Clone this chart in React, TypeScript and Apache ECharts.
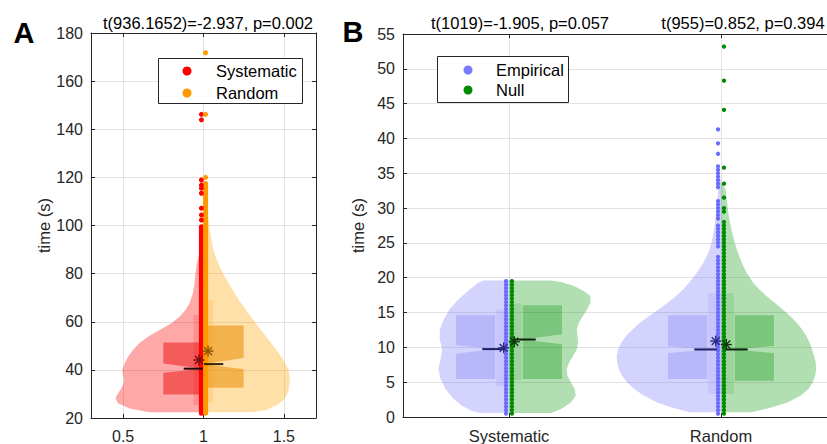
import React, { useEffect, useRef } from "react";
import * as echarts from "echarts";

const FONT = "'Liberation Sans', Arial, Helvetica, sans-serif";
const AXIS_COLOR = "#262626";
const GRID_COLOR = "#e2e2e2";

// ---------------- Panel A data ----------------
const aXTicks = [0.5, 1, 1.5];
const aTitle = "t(936.1652)=-2.937, p=0.002";
const aNames = ["Systematic", "Random"];

const aSysViolinY = [22.4, 22.6, 24.0, 26.1, 28.2, 29.6, 31.6, 33.7, 35.8, 37.9, 40.0, 42.7, 45.5, 48.3, 51.0, 53.8, 56.6, 59.4, 62.1, 64.9, 67.7, 71.8, 76.0, 80.1, 84.3, 87.1, 89.8, 91.2];
const aSysViolinW = [0.325, 0.356, 0.46, 0.532, 0.547, 0.538, 0.518, 0.501, 0.495, 0.501, 0.505, 0.491, 0.47, 0.439, 0.402, 0.346, 0.273, 0.2, 0.149, 0.112, 0.087, 0.066, 0.056, 0.05, 0.041, 0.029, 0.014, 0];
const aRndViolinY = [22.4, 23.3, 25.4, 28.2, 31.6, 35.8, 40.0, 44.1, 48.3, 52.4, 56.6, 60.7, 64.9, 69.1, 73.2, 77.4, 81.5, 85.7, 89.8, 95.4, 100.9, 106.4, 112.0, 116.1];
const aRndViolinW = [0.306, 0.39, 0.46, 0.51, 0.53, 0.538, 0.53, 0.497, 0.455, 0.406, 0.358, 0.31, 0.265, 0.219, 0.182, 0.145, 0.11, 0.083, 0.062, 0.046, 0.033, 0.025, 0.017, 0];
// [q1, notch low, median, notch high, q3]
const aSysBox = [29.8, 38.8, 40.5, 42.6, 51.4];
const aRndBox = [32.6, 40.3, 42.4, 44.9, 58.4];
const aSysMean = 44.1;
const aRndMean = 47.8;
// mean - sd, mean + sd
const aSysSd = [25.4, 62.8];
const aRndSd = [26.5, 69.0];
// dense runs of overlapping dots [from, to] and isolated dots
const aSysRuns = [[22, 99.5]];
const aSysDots = [102.3, 104.4, 107.2, 113.4, 115.5, 116.8, 118.9, 143.9, 146.2];
const aRndRuns = [[22, 117.5]];
const aRndDots = [120.0, 146.2, 171.8];

// ---------------- Panel B data ----------------
const bCategories = ["Systematic", "Random"];
const bTitles = ["t(1019)=-1.905, p=0.057", "t(955)=0.852, p=0.394"];
const bNames = ["Empirical", "Null"];

const bSysEmpViolinY = [0.57, 0.91, 1.62, 2.58, 4.01, 5.44, 6.88, 8.31, 9.74, 11.17, 12.6, 14.04, 15.47, 16.9, 18.34, 19.29, 19.6];
const bSysEmpViolinW = [0.138, 0.177, 0.223, 0.261, 0.3, 0.323, 0.333, 0.323, 0.315, 0.327, 0.326, 0.307, 0.28, 0.238, 0.184, 0.146, 0.12];
const bSysNullViolinY = [0.57, 1.15, 2.1, 3.06, 4.01, 4.97, 5.92, 6.88, 7.83, 8.79, 9.74, 10.7, 11.65, 12.6, 13.56, 14.52, 15.47, 16.43, 17.38, 18.1, 18.82, 19.39, 19.6];
const bSysNullViolinW = [0.2, 0.246, 0.292, 0.315, 0.31, 0.292, 0.276, 0.272, 0.284, 0.303, 0.32, 0.326, 0.323, 0.32, 0.33, 0.349, 0.369, 0.384, 0.384, 0.353, 0.307, 0.246, 0.2];
const bRndEmpViolinY = [0.67, 1.38, 2.1, 3.06, 4.01, 4.97, 5.92, 6.88, 7.83, 8.79, 9.74, 10.7, 11.65, 12.6, 13.56, 14.52, 15.47, 16.43, 17.38, 18.34, 19.29, 20.73, 22.16, 23.6, 25.03, 26.94, 28.84, 30.75, 32.66, 34.5];
const bRndEmpViolinW = [0.147, 0.232, 0.301, 0.363, 0.409, 0.442, 0.467, 0.482, 0.49, 0.492, 0.485, 0.47, 0.447, 0.416, 0.381, 0.339, 0.293, 0.25, 0.212, 0.178, 0.151, 0.114, 0.083, 0.06, 0.045, 0.032, 0.025, 0.018, 0.012, 0];
const bRndNullViolinY = [0.67, 1.38, 2.1, 3.06, 4.01, 4.97, 5.92, 6.88, 7.83, 8.79, 9.74, 10.7, 11.65, 12.6, 13.56, 14.52, 15.47, 16.43, 17.38, 18.34, 19.29, 20.73, 22.16, 23.6, 25.03, 26.94, 28.84, 30.75, 32.66, 33.6];
const bRndNullViolinW = [0.144, 0.237, 0.313, 0.375, 0.413, 0.433, 0.444, 0.449, 0.447, 0.439, 0.429, 0.418, 0.402, 0.382, 0.356, 0.326, 0.29, 0.252, 0.214, 0.18, 0.152, 0.121, 0.098, 0.08, 0.065, 0.049, 0.037, 0.029, 0.022, 0];

const bSysEmpBox = [5.44, 9.1, 9.75, 10.32, 14.6];
const bSysNullBox = [5.44, 10.46, 11.13, 11.9, 16.05];
const bRndEmpBox = [5.44, 9.17, 9.7, 10.2, 14.6];
const bRndNullBox = [5.2, 9.17, 9.7, 10.2, 14.6];
const bSysEmpMean = 9.93;
const bSysNullMean = 10.8;
const bRndEmpMean = 10.9;
const bRndNullMean = 10.4;
const bSysEmpSd = [4.4, 15.4];
const bSysNullSd = [5.3, 16.3];
const bRndEmpSd = [3.3, 17.8];
const bRndNullSd = [3.3, 17.8];

const bSysEmpDots = [0.5, 1, 1.5, 2, 2.5, 3, 3.5, 4, 4.5, 5, 5.5, 6, 6.5, 7, 7.5, 8, 8.5, 9, 9.5, 10, 10.5, 11, 11.5, 12, 12.5, 13, 13.5, 14, 14.5, 15, 15.5, 16, 16.5, 17, 17.5, 18, 18.5, 19, 19.5];
const bSysNullDots = [0.5, 1, 1.5, 2, 2.5, 3, 3.5, 4, 4.5, 5, 5.5, 6, 6.5, 7, 7.5, 8, 8.5, 9, 9.5, 10, 10.5, 11, 11.5, 12, 12.5, 13, 13.5, 14, 14.5, 15, 15.5, 16, 16.5, 17, 17.5, 18, 18.5, 19, 19.5];
const bRndEmpDots = [0.5, 1, 1.5, 2, 2.5, 3, 3.5, 4, 4.5, 5, 5.5, 6, 6.5, 7, 7.5, 8, 8.5, 9, 9.5, 10, 10.5, 11, 11.5, 12, 12.5, 13, 13.5, 14, 14.5, 15, 15.5, 16, 16.5, 17, 17.5, 18, 18.5, 19, 19.5, 20, 20.5, 21, 21.5, 22, 22.5, 23, 24.5, 25, 25.5, 26, 26.5, 27, 27.5, 28.5, 29, 29.5, 30, 30.5, 31, 33, 33.5, 34, 34.5, 35, 35.5, 36, 37.8, 39.3, 41.3];
const bRndNullDots = [0.5, 1, 1.5, 2, 2.5, 3, 3.5, 4, 4.5, 5, 5.5, 6, 6.5, 7, 7.5, 8, 8.5, 9, 9.5, 10, 10.5, 11, 11.5, 12, 12.5, 13, 13.5, 14, 14.5, 15, 15.5, 16, 16.5, 17, 17.5, 18, 18.5, 19, 19.5, 20, 20.5, 21, 21.5, 22, 22.5, 23, 23.5, 24, 24.5, 25, 25.5, 26, 26.5, 27, 27.5, 28, 29.5, 30, 31.5, 33.5, 35.8, 44.1, 48.3, 53.2];

// ---------------- styles ----------------
const RED = { dot: "#ff0000", violin: "rgba(255,0,0,0.34)", box: "rgba(230,0,0,0.45)", sd: "rgba(255,0,0,0.15)", med: "#2a0505", mean: "#7a0c0c" };
const ORANGE = { dot: "#ff9900", violin: "rgba(255,165,0,0.34)", box: "rgba(235,140,0,0.55)", sd: "rgba(255,150,0,0.15)", med: "#33240a", mean: "#8a5500" };
const BLUE = { dot: "#6b6bff", violin: "rgba(110,110,250,0.3)", box: "rgba(110,110,240,0.28)", sd: "rgba(110,110,250,0.12)", med: "#1d1d66", mean: "#2b2b80" };
const GREEN = { dot: "#008a00", violin: "rgba(0,150,0,0.3)", box: "rgba(0,140,0,0.3)", sd: "rgba(0,140,0,0.12)", med: "#0a200a", mean: "#0b3d0b" };

type Half = {
  c: number; s: number; vy: number[]; vw: number[]; box: number[]; sd: number[]; mean: number;
  dots: number[]; runs: number[][]; col: typeof RED;
};

const aHalves: Half[] = [
  { c: 1, s: -1, vy: aSysViolinY, vw: aSysViolinW, box: aSysBox, sd: aSysSd, mean: aSysMean, dots: aSysDots, runs: aSysRuns, col: RED },
  { c: 1, s: 1, vy: aRndViolinY, vw: aRndViolinW, box: aRndBox, sd: aRndSd, mean: aRndMean, dots: aRndDots, runs: aRndRuns, col: ORANGE },
];
const bHalves: Half[] = [
  { c: 1, s: -1, vy: bSysEmpViolinY, vw: bSysEmpViolinW, box: bSysEmpBox, sd: bSysEmpSd, mean: bSysEmpMean, dots: bSysEmpDots, runs: [], col: BLUE },
  { c: 1, s: 1, vy: bSysNullViolinY, vw: bSysNullViolinW, box: bSysNullBox, sd: bSysNullSd, mean: bSysNullMean, dots: bSysNullDots, runs: [], col: GREEN },
  { c: 2, s: -1, vy: bRndEmpViolinY, vw: bRndEmpViolinW, box: bRndEmpBox, sd: bRndEmpSd, mean: bRndEmpMean, dots: bRndEmpDots, runs: [], col: BLUE },
  { c: 2, s: 1, vy: bRndNullViolinY, vw: bRndNullViolinW, box: bRndNullBox, sd: bRndNullSd, mean: bRndNullMean, dots: bRndNullDots, runs: [], col: GREEN },
];

type Geo = { boxIn: number; boxOut: number; sdW: number; med0: number; med1: number; meanDx: number; dotDx: number; dotSize: number };
const aGeo: Geo = { boxIn: 0.0, boxOut: 0.25, sdW: 0.062, med0: 0.003, med1: 0.123, meanDx: 0.028, dotDx: 0.013, dotSize: 5 };
const bGeo: Geo = { boxIn: 0.065, boxOut: 0.25, sdW: 0.06, med0: 0.02, med1: 0.126, meanDx: 0.025, dotDx: 0.014, dotSize: 4.3 };

function panelSeries(halves: Half[], geo: Geo, axisIdx: number, names: string[]): any[] {
  const base = { xAxisIndex: axisIdx, yAxisIndex: axisIdx, silent: true, animation: false };
  const itemData = halves.map((h) => [h.c, h.mean]);
  const series: any[] = [];
  series.push({
    ...base, type: "custom", z: 2, data: itemData,
    renderItem: (p: any, api: any) => {
      const h = halves[p.dataIndex];
      const pts: number[][] = [api.coord([h.c, h.vy[0]])];
      h.vy.forEach((y, i) => pts.push(api.coord([h.c + h.s * h.vw[i], y])));
      pts.push(api.coord([h.c, h.vy[h.vy.length - 1]]));
      return { type: "polygon", shape: { points: pts }, style: { fill: h.col.violin } };
    },
  });
  series.push({
    ...base, type: "custom", z: 3, data: itemData,
    renderItem: (p: any, api: any) => {
      const h = halves[p.dataIndex];
      const a = api.coord([h.c, h.sd[1]]);
      const b = api.coord([h.c + h.s * geo.sdW, h.sd[0]]);
      return { type: "rect", shape: { x: Math.min(a[0], b[0]), y: a[1], width: Math.abs(b[0] - a[0]), height: b[1] - a[1] }, style: { fill: h.col.sd } };
    },
  });
  series.push({
    ...base, type: "custom", z: 4, data: itemData,
    renderItem: (p: any, api: any) => {
      const h = halves[p.dataIndex];
      const xi = h.c + h.s * geo.boxIn;
      const xo = h.c + h.s * geo.boxOut;
      const [q1, nl, md, nh, q3] = h.box;
      const pts = [[xi, q3], [xo, q3], [xo, nh], [xi, md], [xo, nl], [xo, q1], [xi, q1]].map((v) => api.coord(v));
      return { type: "polygon", shape: { points: pts }, style: { fill: h.col.box } };
    },
  });
  halves.forEach((h, i) => {
    if (h.runs.length) {
      series.push({
        ...base, type: "custom", z: 5, data: h.runs.map((r) => [h.c + h.s * geo.dotDx, r[0], r[1]]),
        renderItem: (p: any, api: any) => {
          const a = api.coord([api.value(0), api.value(1)]);
          const b = api.coord([api.value(0), api.value(2)]);
          return { type: "line", shape: { x1: a[0], y1: a[1], x2: b[0], y2: b[1] }, style: { stroke: h.col.dot, lineWidth: geo.dotSize, lineCap: "round" } };
        },
      });
    }
    series.push({
      ...base, type: "scatter", name: names[i % 2], z: 5, symbol: "circle", symbolSize: geo.dotSize,
      itemStyle: { color: h.col.dot, opacity: 1 },
      data: h.dots.map((y) => [h.c + h.s * geo.dotDx, y]),
    });
  });
  series.push({
    ...base, type: "custom", z: 6, data: itemData,
    renderItem: (p: any, api: any) => {
      const h = halves[p.dataIndex];
      const a = api.coord([h.c + h.s * geo.med0, h.box[2]]);
      const b = api.coord([h.c + h.s * geo.med1, h.box[2]]);
      return { type: "line", shape: { x1: a[0], y1: a[1], x2: b[0], y2: b[1] }, style: { stroke: h.col.med, lineWidth: 2 } };
    },
  });
  series.push({
    ...base, type: "custom", z: 7, data: itemData,
    renderItem: (p: any, api: any) => {
      const h = halves[p.dataIndex];
      const [x, y] = api.coord([h.c + h.s * geo.meanDx, h.mean]);
      const r = 5.5, d = r * 0.72;
      const st = { stroke: h.col.mean, lineWidth: 1.4 };
      return {
        type: "group",
        children: [
          { type: "line", shape: { x1: x - r, y1: y, x2: x + r, y2: y }, style: st },
          { type: "line", shape: { x1: x, y1: y - r, x2: x, y2: y + r }, style: st },
          { type: "line", shape: { x1: x - d, y1: y - d, x2: x + d, y2: y + d }, style: st },
          { type: "line", shape: { x1: x - d, y1: y + d, x2: x + d, y2: y - d }, style: st },
        ],
      };
    },
  });
  return series;
}

const labelStyle = { fontSize: 16, color: AXIS_COLOR, fontFamily: FONT };

export default function App() {
  const ref = useRef<HTMLDivElement>(null);
  useEffect(() => {
    if (!ref.current) return;
    const chart = echarts.init(ref.current, null, { renderer: "svg" });
    const tickLine = { lineStyle: { color: AXIS_COLOR } };
    const option: any = {
      animation: false,
      backgroundColor: "#ffffff",
      grid: [
        { left: 91, top: 33, width: 225, height: 385 },
        { left: 403, top: 34, width: 436, height: 384 },
      ],
      xAxis: [
        {
          gridIndex: 0, type: "value", min: 0.3, max: 1.7, position: "bottom",
          axisLine: { onZero: false, ...tickLine },
          axisTick: { inside: true, length: 4, customValues: aXTicks, ...tickLine },
          axisLabel: { ...labelStyle, margin: 10, customValues: aXTicks, formatter: (v: number) => String(v) },
          splitLine: { show: true, lineStyle: { color: GRID_COLOR } },
        },
        {
          gridIndex: 0, type: "value", min: 0.3, max: 1.7, position: "top",
          axisLine: { onZero: false, ...tickLine },
          axisTick: { inside: true, length: 4, customValues: aXTicks, ...tickLine },
          axisLabel: { show: false }, splitLine: { show: false },
        },
        {
          gridIndex: 1, type: "value", min: 0.5, max: 2.5, position: "bottom",
          axisLine: { onZero: false, ...tickLine },
          axisTick: { inside: true, length: 4, customValues: [1, 2], ...tickLine },
          axisLabel: { ...labelStyle, fontSize: 16.5, margin: 10, customValues: [1, 2], formatter: (v: number) => bCategories[Math.round(v) - 1] },
          splitLine: { show: true, lineStyle: { color: GRID_COLOR } },
        },
        {
          gridIndex: 1, type: "value", min: 0.5, max: 2.5, position: "top",
          axisLine: { onZero: false, ...tickLine },
          axisTick: { inside: true, length: 4, customValues: [1, 2], ...tickLine },
          axisLabel: { show: false }, splitLine: { show: false },
        },
      ],
      yAxis: [
        {
          gridIndex: 0, type: "value", min: 20, max: 180, interval: 20,
          name: "time (s)", nameLocation: "middle", nameGap: 39,
          nameTextStyle: { fontSize: 16.5, color: AXIS_COLOR, fontFamily: FONT },
          axisLine: { show: true, onZero: false, ...tickLine },
          axisTick: { show: true, inside: true, length: 4, ...tickLine },
          axisLabel: { ...labelStyle, margin: 8 },
          splitLine: { show: true, lineStyle: { color: GRID_COLOR } },
        },
        {
          gridIndex: 0, type: "value", min: 20, max: 180, interval: 20, position: "right",
          axisLine: { show: true, onZero: false, ...tickLine },
          axisTick: { show: true, inside: true, length: 4, ...tickLine },
          axisLabel: { show: false }, splitLine: { show: false },
        },
        {
          gridIndex: 1, type: "value", min: 0, max: 55, interval: 5,
          name: "time (s)", nameLocation: "middle", nameGap: 31,
          nameTextStyle: { fontSize: 16.5, color: AXIS_COLOR, fontFamily: FONT },
          axisLine: { show: true, onZero: false, ...tickLine },
          axisTick: { show: true, inside: true, length: 4, ...tickLine },
          axisLabel: { ...labelStyle, margin: 8 },
          splitLine: { show: true, lineStyle: { color: GRID_COLOR } },
        },
      ],
      series: [
        ...panelSeries(aHalves, aGeo, 0, aNames),
        ...panelSeries(bHalves, bGeo, 2, bNames),
      ],
      graphic: [
        { type: "text", x: 24, y: 33, style: { text: "A", font: `bold 29px ${FONT}`, fill: "#000", align: "center", verticalAlign: "middle", textAlign: "center", textVerticalAlign: "middle" } },
        { type: "text", x: 353, y: 32, style: { text: "B", font: `bold 29px ${FONT}`, fill: "#000", align: "center", verticalAlign: "middle", textAlign: "center", textVerticalAlign: "middle" } },
        { type: "text", x: 208, y: 23, style: { text: aTitle, font: `16.5px ${FONT}`, fill: "#000", align: "center", verticalAlign: "middle", textAlign: "center", textVerticalAlign: "middle" } },
        { type: "text", x: 520, y: 23, style: { text: bTitles[0], font: `16.5px ${FONT}`, fill: "#000", align: "center", verticalAlign: "middle", textAlign: "center", textVerticalAlign: "middle" } },
        { type: "text", x: 743, y: 23, style: { text: bTitles[1], font: `16.5px ${FONT}`, fill: "#000", align: "center", verticalAlign: "middle", textAlign: "center", textVerticalAlign: "middle" } },
        // legend A
        { type: "rect", shape: { x: 158.5, y: 58.5, width: 144, height: 45 }, style: { fill: "#fff", stroke: AXIS_COLOR, lineWidth: 1 }, z: 100 },
        { type: "circle", shape: { cx: 187, cy: 71, r: 4.5 }, style: { fill: RED.dot }, z: 101 },
        { type: "circle", shape: { cx: 187, cy: 93, r: 4.5 }, style: { fill: ORANGE.dot }, z: 101 },
        { type: "text", x: 216, y: 71, style: { text: aNames[0], font: `16.5px ${FONT}`, fill: "#000", verticalAlign: "middle", textVerticalAlign: "middle" }, z: 101 },
        { type: "text", x: 216, y: 93, style: { text: aNames[1], font: `16.5px ${FONT}`, fill: "#000", verticalAlign: "middle", textVerticalAlign: "middle" }, z: 101 },
        // legend B
        { type: "rect", shape: { x: 437.5, y: 56.5, width: 131, height: 46 }, style: { fill: "#fff", stroke: AXIS_COLOR, lineWidth: 1 }, z: 100 },
        { type: "circle", shape: { cx: 468, cy: 70, r: 4.5 }, style: { fill: "#7a7aff" }, z: 101 },
        { type: "circle", shape: { cx: 468, cy: 90, r: 4.5 }, style: { fill: GREEN.dot }, z: 101 },
        { type: "text", x: 496, y: 70, style: { text: bNames[0], font: `16.5px ${FONT}`, fill: "#000", verticalAlign: "middle", textVerticalAlign: "middle" }, z: 101 },
        { type: "text", x: 496, y: 90, style: { text: bNames[1], font: `16.5px ${FONT}`, fill: "#000", verticalAlign: "middle", textVerticalAlign: "middle" }, z: 101 },
      ],
    };
    chart.setOption(option);
    return () => chart.dispose();
  }, []);
  return <div ref={ref} style={{ position: "absolute", left: 0, top: 0, width: 827, height: 444, background: "#fff" }} />;
}
